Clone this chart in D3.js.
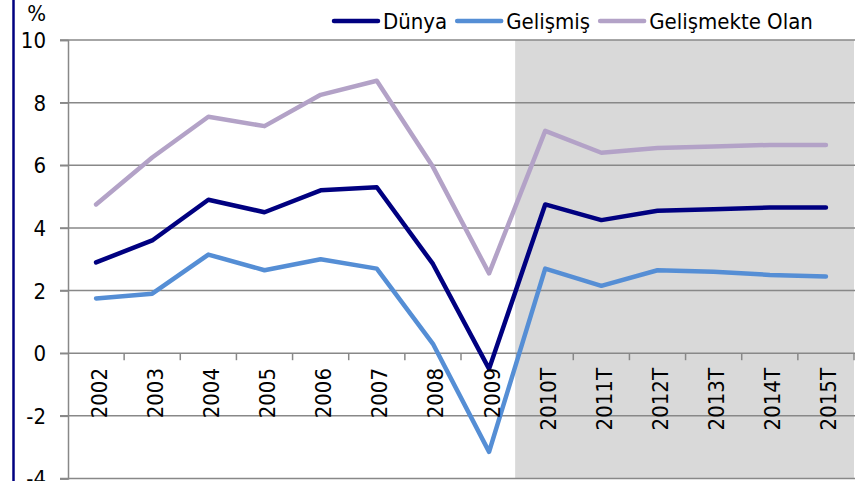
<!DOCTYPE html>
<html>
<head>
<meta charset="utf-8">
<script src="https://cdn.jsdelivr.net/npm/d3@7"></script>
<style>
  body { margin: 0; background: #fff; }
  svg text { font-family: "DejaVu Sans Condensed", "DejaVu Sans", sans-serif; fill: #000; }
</style>
</head>
<body>
<div id="chart"></div>
<script>
// categories and series (growth, %)
var years = ["2002", "2003", "2004", "2005", "2006", "2007", "2008", "2009",
  "2010T", "2011T", "2012T", "2013T", "2014T", "2015T"];
var dunya = [2.9, 3.6, 4.9, 4.5, 5.2, 5.3, 2.85, -0.5, 4.75, 4.25, 4.55, 4.6, 4.65, 4.65];
var gelismis = [1.75, 1.9, 3.15, 2.65, 3.0, 2.7, 0.3, -3.15, 2.7, 2.15, 2.65, 2.6, 2.5, 2.45];
var gelismekte = [4.75, 6.25, 7.55, 7.25, 8.25, 8.7, 5.95, 2.55, 7.1, 6.4, 6.55, 6.6, 6.65, 6.65];
var yTicks = [-4, -2, 0, 2, 4, 6, 8, 10];
var forecastYears = ["2010T", "2011T", "2012T", "2013T", "2014T", "2015T"];
var seriesNames = ["Dünya", "Gelişmiş", "Gelişmekte Olan"];
var seriesColors = ["#000080", "#558ED5", "#B3A2C7"];

var width = 857,
  height = 481,
  plotLeft = 68,
  plotRight = 854,
  plotTop = 40,
  plotBottom = 478.5;

var series = [dunya, gelismis, gelismekte].map(function(v, i) {
  return { name: seriesNames[i], color: seriesColors[i], values: v };
});

var svg = d3.select("#chart").append("svg")
  .attr("width", width)
  .attr("height", height);

var x = d3.scaleBand().domain(years).range([plotLeft, plotRight]);
var y = d3.scaleLinear().domain([-4, 10]).range([plotBottom, plotTop]);
var cx = function(d) { return x(d) + x.bandwidth() / 2; };

// forecast shading
var fx0 = x(forecastYears[0]) - 2;
svg.append("rect")
  .attr("x", fx0)
  .attr("y", plotTop)
  .attr("width", plotRight - fx0)
  .attr("height", plotBottom - plotTop)
  .attr("fill", "#D9D9D9");

// gridlines
svg.append("g").selectAll("line")
  .data(yTicks)
  .enter().append("line")
  .attr("x1", plotLeft - 8)
  .attr("x2", plotRight + 1)
  .attr("y1", function(d) { return y(d); })
  .attr("y2", function(d) { return y(d); })
  .attr("stroke", "#888")
  .attr("stroke-width", 1.5);

// y axis (plain hyphen for negatives, as in the original)
var yAxis = svg.append("g")
  .attr("transform", "translate(" + plotLeft + ",0)")
  .call(d3.axisLeft(y).tickValues(yTicks).tickSize(8).tickPadding(14)
    .tickFormat(function(d) { return String(d); }));
yAxis.select(".domain").attr("stroke", "#888").attr("stroke-width", 1.5);
yAxis.selectAll(".tick line").attr("stroke", "#888").attr("stroke-width", 1.5);
yAxis.selectAll(".tick text")
  .style("font-size", "22px")
  .attr("dy", "0.34em");
yAxis.attr("font-family", null).attr("font-size", null);

svg.append("text")
  .attr("x", plotLeft - 22)
  .attr("y", 21)
  .attr("text-anchor", "end")
  .style("font-size", "22px")
  .text("%");

// x axis ticks on zero line
var y0 = y(0);
svg.append("g").selectAll("line")
  .data(years)
  .enter().append("line")
  .attr("x1", function(d) { return x(d) + x.bandwidth(); })
  .attr("x2", function(d) { return x(d) + x.bandwidth(); })
  .attr("y1", y0)
  .attr("y2", y0 + 7)
  .attr("stroke", "#888")
  .attr("stroke-width", 1.5);

// series lines
var line = d3.line()
  .x(function(d, i) { return cx(years[i]); })
  .y(function(d) { return y(d); });

svg.append("g").selectAll("path")
  .data(series)
  .enter().append("path")
  .attr("d", function(s) { return line(s.values); })
  .attr("fill", "none")
  .attr("stroke", function(s) { return s.color; })
  .attr("stroke-width", 4.5)
  .attr("stroke-linejoin", "round")
  .attr("stroke-linecap", "round");

// category labels
svg.append("g").selectAll("text")
  .data(years)
  .enter().append("text")
  .attr("transform", function(d) { return "translate(" + (cx(d) + 10.5) + "," + 368 + ") rotate(-90)"; })
  .attr("text-anchor", "end")
  .style("font-size", "22px")
  .text(function(d) { return d; });

// left frame line
svg.append("line")
  .attr("x1", 13.5).attr("x2", 13.5)
  .attr("y1", 0).attr("y2", height)
  .attr("stroke", "#000080")
  .attr("stroke-width", 2.5);

// legend
var lx = 334;
series.forEach(function(s) {
  var g = svg.append("g");
  g.append("line")
    .attr("x1", lx).attr("x2", lx + 44)
    .attr("y1", 21).attr("y2", 21)
    .attr("stroke", s.color)
    .attr("stroke-width", 4.5)
    .attr("stroke-linecap", "round");
  var t = g.append("text")
    .attr("x", lx + 49)
    .attr("y", 29)
    .style("font-size", "22px")
    .text(s.name);
  lx = lx + 49 + t.node().getComputedTextLength() + 10;
});
</script>
</body>
</html>
